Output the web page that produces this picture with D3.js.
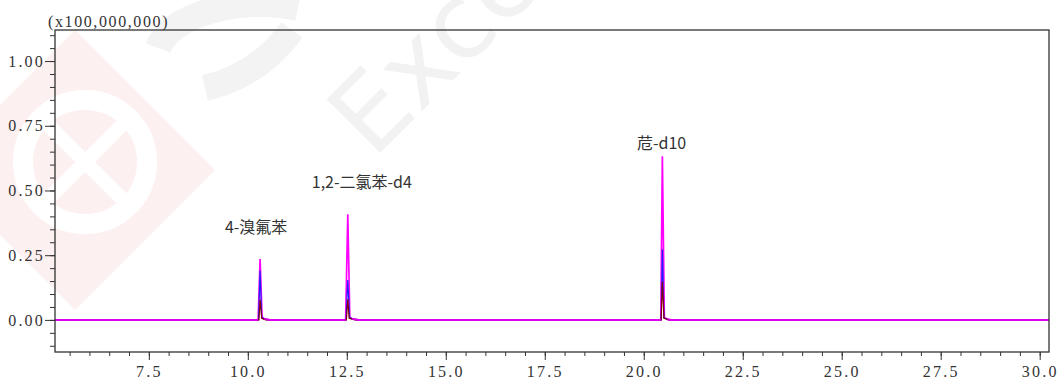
<!DOCTYPE html>
<html>
<head>
<meta charset="utf-8">
<script src="https://cdn.jsdelivr.net/npm/d3@7"></script>
<style>
  html, body { margin: 0; padding: 0; background: #fff; }
  #canvas { width: 1059px; height: 380px; }
  .tick text { font-family: "Liberation Serif", serif; font-size: 16px; fill: #333; letter-spacing: 2.2px; }
  .tick line { stroke: #333; }
</style>
</head>
<body>
<div id="canvas"></div>
<script>
// retention time (min) / intensity (x100,000,000)
var magentaTrace = [
  [5.13, 0], [10.26, 0], [10.31, 0.235], [10.36, 0.012], [10.42, 0.004], [10.55, 0],
  [12.47, 0], [12.525, 0.408], [12.575, 0.012], [12.64, 0.004], [12.8, 0],
  [20.43, 0], [20.47, 0.632], [20.52, 0.01], [20.6, 0.002], [20.7, 0], [30.24, 0]
];
var blueTrace = [
  [5.13, 0], [10.27, 0], [10.31, 0.19], [10.35, 0.01], [10.42, 0.003], [10.55, 0],
  [12.48, 0], [12.525, 0.154], [12.57, 0.01], [12.64, 0.003], [12.8, 0],
  [20.44, 0], [20.47, 0.273], [20.51, 0.008], [20.6, 0.002], [20.7, 0], [30.24, 0]
];
var darkredTrace = [
  [5.13, 0], [10.28, 0], [10.31, 0.078], [10.35, 0.006], [10.45, 0],
  [12.49, 0], [12.525, 0.08], [12.56, 0.006], [12.7, 0],
  [20.44, 0], [20.47, 0.148], [20.51, 0.006], [20.65, 0], [30.24, 0]
];
var peakNames = ["4-溴氟苯", "1,2-二氯苯-d4", "苊-d10"];
var labelRt = [10.21, 12.88, 20.45];
var labelVal = [0.335, 0.51, 0.662];
var xTicks = [7.5, 10.0, 12.5, 15.0, 17.5, 20.0, 22.5, 25.0, 27.5, 30.0];
var yTicks = [0.00, 0.25, 0.50, 0.75, 1.00];
var yUnit = "(x100,000,000)";

var W = 1059, H = 380;
var padL = 55, padR = 1049, padT = 30, padB = 352;

svg = d3.select("#canvas").append("svg").attr("width", W).attr("height", H);

// watermark (faint logo + text behind the plot)
var wm = svg.append("g").attr("class", "watermark");
wm.append("polygon")
  .attr("points", "75,30 215,170 75,310 -65,170")
  .attr("fill", "#fdf0f0");
wm.append("circle").attr("cx", 85).attr("cy", 162).attr("r", 62)
  .attr("fill", "none").attr("stroke", "#fff").attr("stroke-width", 20);
wm.append("line").attr("x1", 48).attr("y1", 125).attr("x2", 122).attr("y2", 199)
  .attr("stroke", "#fff").attr("stroke-width", 14);
wm.append("line").attr("x1", 122).attr("y1", 125).attr("x2", 48).attr("y2", 199)
  .attr("stroke", "#fff").attr("stroke-width", 14);
wm.append("path")
  .attr("d", "M158,48 C170,15 240,-5 298,8")
  .attr("fill", "none").attr("stroke", "#f3f3f3").attr("stroke-width", 26);
wm.append("path")
  .attr("d", "M205,88 C240,80 270,60 292,30")
  .attr("fill", "none").attr("stroke", "#f3f3f3").attr("stroke-width", 26);
wm.append("text")
  .attr("transform", "translate(373,160) rotate(-45)")
  .attr("font-family", "DejaVu Sans, sans-serif")
  .attr("font-size", 104)
  .attr("fill", "#f2f2f2")
  .text("Exce");

var x = d3.scaleLinear().domain([5.13, 30.235]).range([padL, padR]);
var y = d3.scaleLinear().domain([-0.124, 1.12]).range([padB, padT]);

// axes: minor ticks first, then major ticks with labels
var yMinor = d3.range(-0.10, 1.101, 0.05);
svg.append("g").attr("transform", "translate(" + padL + ",0)")
  .call(d3.axisLeft(y).tickValues(yMinor).tickSize(5).tickFormat(""))
  .call(function(g) { g.select(".domain").remove(); });
svg.append("g").attr("transform", "translate(" + padL + ",0)")
  .call(d3.axisLeft(y).tickValues(yTicks).tickSize(10).tickPadding(0).tickFormat(d3.format(".2f")))
  .call(function(g) { g.select(".domain").remove(); });

var xMinor = d3.range(5.5, 30.01, 0.5);
svg.append("g").attr("transform", "translate(0," + padB + ")")
  .call(d3.axisBottom(x).tickValues(xMinor).tickSize(4).tickFormat(""))
  .call(function(g) { g.select(".domain").remove(); });
svg.append("g").attr("transform", "translate(0," + padB + ")")
  .call(d3.axisBottom(x).tickValues(xTicks).tickSize(8).tickPadding(6).tickFormat(d3.format(".1f")))
  .call(function(g) { g.select(".domain").remove(); });

svg.append("text")
  .attr("x", 48).attr("y", 27)
  .attr("font-family", "Liberation Serif, serif")
  .attr("font-size", 16)
  .attr("letter-spacing", 1.6)
  .attr("fill", "#333")
  .text(yUnit);

// traces
svg.append("clipPath").attr("id", "plotclip")
  .append("rect").attr("x", padL).attr("y", padT).attr("width", padR - padL).attr("height", padB - padT);

var line = d3.line().x(function(d) { return x(d[0]); }).y(function(d) { return y(d[1]); });
var traces = svg.append("g").attr("clip-path", "url(#plotclip)");

traces.append("path").datum(magentaTrace).attr("d", line)
  .attr("fill", "none").attr("stroke", "#ff00ff").attr("stroke-width", 1.7);
traces.append("path").datum(blueTrace).attr("d", line)
  .attr("fill", "none").attr("stroke", "#2020ff").attr("stroke-width", 1.2);
traces.append("path").datum(darkredTrace).attr("d", line)
  .attr("fill", "none").attr("stroke", "#8b0000").attr("stroke-width", 1.2);
// magenta baseline stays on top
var baseLine = d3.line().defined(function(d) { return d[1] < 0.005; })
  .x(function(d) { return x(d[0]); }).y(function(d) { return y(d[1]); });
traces.append("path").datum(magentaTrace).attr("d", baseLine)
  .attr("fill", "none").attr("stroke", "#dd00ee").attr("stroke-width", 2);

// frame
svg.append("rect")
  .attr("x", padL).attr("y", padT).attr("width", padR - padL).attr("height", padB - padT)
  .attr("fill", "none").attr("stroke", "#333").attr("stroke-width", 1.3);

// peak labels
svg.selectAll(".peak-label").data(peakNames).enter().append("text")
  .attr("class", "peak-label")
  .attr("x", function(d, i) { return x(labelRt[i]); })
  .attr("y", function(d, i) { return y(labelVal[i]); })
  .attr("text-anchor", "middle")
  .attr("font-family", "Noto Sans CJK SC, sans-serif")
  .attr("font-size", 16)
  .attr("fill", "#333")
  .text(function(d) { return d; });
</script>
</body>
</html>
